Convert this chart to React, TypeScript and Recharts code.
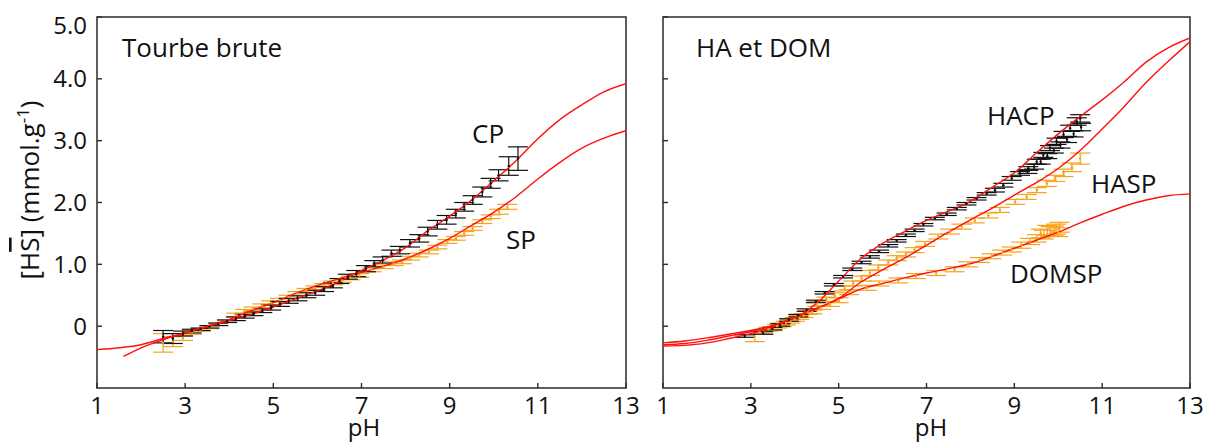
import React from "react";
import { ComposedChart, Line, Scatter, ErrorBar, XAxis, YAxis, ReferenceArea } from "recharts";

type Fit = [number, number];
type Pt = [number, number, number];

const pHTicks = [1, 3, 5, 7, 9, 11, 13];
const hsTicks = [0, 1, 2, 3, 4, 5];

// Tourbe brute: fitted curves (pH, [Hs])
const cpFit: Fit[] = [
  [1, -0.38], [1.5, -0.35], [2, -0.3], [2.5, -0.2], [3, -0.11], [3.5, -0.01], [4, 0.09], [4.5, 0.19],
  [5, 0.31], [5.5, 0.44], [6, 0.57], [6.5, 0.72], [7, 0.9], [7.5, 1.07], [8, 1.27], [8.5, 1.54],
  [9, 1.78], [9.5, 2.04], [10, 2.35], [10.5, 2.67], [11, 3.03], [11.5, 3.34], [12, 3.58], [12.5, 3.79], [13, 3.92],
];
const spFit: Fit[] = [
  [1.6, -0.49], [2, -0.35], [2.5, -0.22], [3, -0.11], [3.5, 0.0], [4, 0.11], [4.5, 0.25], [5, 0.38],
  [5.5, 0.53], [6, 0.66], [6.5, 0.77], [7, 0.87], [7.5, 0.97], [8, 1.09], [8.5, 1.24], [9, 1.42],
  [9.5, 1.63], [10, 1.84], [10.5, 2.09], [11, 2.38], [11.5, 2.65], [12, 2.88], [12.5, 3.04], [13, 3.16],
];

// Tourbe brute: measured points (pH, [Hs], error)
const cpPts: Pt[] = [
  [2.5, -0.17, 0.1], [2.72, -0.2, 0.08], [2.95, -0.12, 0.04], [3.15, -0.08, 0.03], [3.35, -0.05, 0.02],
  [3.55, -0.01, 0.02], [3.75, 0.03, 0.02], [3.95, 0.08, 0.02], [4.15, 0.12, 0.03], [4.35, 0.16, 0.03],
  [4.55, 0.2, 0.03], [4.75, 0.25, 0.03], [4.95, 0.3, 0.04], [5.15, 0.36, 0.04], [5.35, 0.41, 0.04],
  [5.55, 0.45, 0.04], [5.75, 0.5, 0.04], [5.95, 0.54, 0.04], [6.15, 0.6, 0.04], [6.35, 0.66, 0.04],
  [6.5, 0.73, 0.04], [6.69, 0.8, 0.04], [6.88, 0.85, 0.05], [7.1, 0.93, 0.05], [7.29, 1.01, 0.05],
  [7.48, 1.07, 0.05], [7.68, 1.18, 0.05], [7.87, 1.23, 0.06], [8.1, 1.34, 0.06], [8.31, 1.42, 0.06],
  [8.5, 1.53, 0.07], [8.72, 1.64, 0.07], [8.93, 1.72, 0.07], [9.14, 1.82, 0.07], [9.33, 1.93, 0.07],
  [9.52, 2.04, 0.07], [9.74, 2.17, 0.08], [9.93, 2.31, 0.08], [10.11, 2.44, 0.09], [10.34, 2.59, 0.15],
  [10.55, 2.71, 0.19],
];
const spPts: Pt[] = [
  [2.5, -0.27, 0.15], [2.72, -0.25, 0.08], [2.95, -0.19, 0.04], [3.15, -0.1, 0.03], [3.35, -0.06, 0.02],
  [3.55, -0.02, 0.02], [3.75, 0.03, 0.02], [3.95, 0.08, 0.02], [4.16, 0.18, 0.03], [4.36, 0.24, 0.03],
  [4.55, 0.28, 0.03], [4.75, 0.33, 0.03], [4.95, 0.38, 0.03], [5.15, 0.42, 0.03], [5.35, 0.47, 0.03],
  [5.55, 0.53, 0.03], [5.75, 0.58, 0.03], [5.95, 0.62, 0.03], [6.15, 0.66, 0.03], [6.35, 0.7, 0.03],
  [6.55, 0.74, 0.03], [6.75, 0.78, 0.03], [6.95, 0.82, 0.03], [7.23, 0.91, 0.03], [7.5, 0.96, 0.03],
  [7.73, 1.01, 0.03], [7.92, 1.04, 0.03], [8.1, 1.1, 0.03], [8.3, 1.15, 0.03], [8.53, 1.2, 0.03],
  [8.72, 1.28, 0.03], [8.95, 1.37, 0.03], [9.14, 1.42, 0.03], [9.33, 1.5, 0.03], [9.52, 1.58, 0.03],
  [9.74, 1.69, 0.03], [9.93, 1.77, 0.03], [10.12, 1.85, 0.04], [10.31, 1.93, 0.04],
];

// HA et DOM: fitted curves
const hacpFit: Fit[] = [
  [1, -0.27], [1.5, -0.24], [2, -0.19], [2.5, -0.13], [3, -0.07], [3.5, 0.01], [4, 0.13], [4.5, 0.37],
  [5, 0.73], [5.5, 1.09], [6, 1.34], [6.5, 1.53], [7, 1.71], [7.5, 1.86], [8, 2.02], [8.5, 2.25],
  [9, 2.48], [9.5, 2.8], [10, 3.11], [10.5, 3.39], [11, 3.66], [11.5, 3.95], [12, 4.27], [12.5, 4.5], [13, 4.66],
];
const haspFit: Fit[] = [
  [1, -0.3], [1.5, -0.28], [2, -0.23], [2.5, -0.16], [3, -0.09], [3.5, 0.01], [4, 0.14], [4.5, 0.29],
  [5, 0.45], [5.5, 0.71], [6, 0.91], [6.5, 1.1], [7, 1.31], [7.5, 1.52], [8, 1.72], [8.5, 1.91],
  [9, 2.12], [9.5, 2.32], [10, 2.55], [10.5, 2.84], [11, 3.19], [11.5, 3.55], [12, 3.94], [12.5, 4.28], [13, 4.6],
];
const domspFit: Fit[] = [
  [1, -0.32], [1.5, -0.31], [2, -0.27], [2.5, -0.2], [3, -0.12], [3.5, -0.01], [4, 0.13], [4.5, 0.28],
  [5, 0.44], [5.5, 0.6], [6, 0.69], [6.5, 0.78], [7, 0.86], [7.5, 0.93], [8, 1.01], [8.5, 1.13],
  [9, 1.26], [9.5, 1.39], [10, 1.52], [10.5, 1.67], [11, 1.81], [11.5, 1.94], [12, 2.04], [12.5, 2.11], [13, 2.14],
];

// HA et DOM: measured points
const hacpPts: Pt[] = [
  [2.86, -0.16, 0.02], [3.28, -0.11, 0.02], [3.49, -0.04, 0.02], [3.67, 0.02, 0.02], [3.87, 0.1, 0.02],
  [4.08, 0.17, 0.02], [4.27, 0.26, 0.02], [4.48, 0.4, 0.02], [4.68, 0.54, 0.02], [4.89, 0.67, 0.02],
  [5.1, 0.8, 0.02], [5.31, 0.92, 0.02], [5.52, 1.03, 0.02], [5.71, 1.12, 0.02], [5.92, 1.21, 0.02],
  [6.13, 1.3, 0.02], [6.32, 1.38, 0.02], [6.53, 1.47, 0.02], [6.73, 1.55, 0.02], [6.93, 1.64, 0.02],
  [7.19, 1.74, 0.02], [7.46, 1.81, 0.02], [7.69, 1.9, 0.02], [7.91, 1.98, 0.02], [8.14, 2.06, 0.02],
  [8.37, 2.14, 0.02], [8.56, 2.2, 0.03], [8.75, 2.28, 0.03], [8.94, 2.39, 0.03], [9.13, 2.47, 0.03],
  [9.32, 2.55, 0.03], [9.51, 2.66, 0.04], [9.66, 2.77, 0.04], [9.81, 2.88, 0.04], [9.96, 2.99, 0.05],
  [10.12, 3.1, 0.05], [10.27, 3.2, 0.05], [10.42, 3.31, 0.06], [10.5, 3.36, 0.06],
  [9.3, 2.5, 0.03], [9.45, 2.58, 0.04], [9.6, 2.66, 0.04], [9.75, 2.75, 0.04], [9.9, 2.84, 0.04],
  [10.05, 2.93, 0.05], [10.2, 3.02, 0.05], [10.35, 3.11, 0.05], [10.52, 3.22, 0.06],
];
const haspPts: Pt[] = [
  [3.09, -0.17, 0.08], [3.3, -0.1, 0.03], [3.5, -0.04, 0.03], [3.7, 0.02, 0.03], [3.9, 0.08, 0.03],
  [4.1, 0.14, 0.03], [4.3, 0.22, 0.03], [4.51, 0.36, 0.04], [4.72, 0.43, 0.04], [4.91, 0.5, 0.04],
  [5.14, 0.61, 0.04], [5.33, 0.69, 0.04], [5.52, 0.77, 0.04], [5.71, 0.86, 0.04], [5.9, 0.95, 0.04],
  [6.13, 1.03, 0.04], [6.32, 1.1, 0.04], [6.53, 1.16, 0.04], [6.73, 1.23, 0.04], [6.97, 1.33, 0.04],
  [7.27, 1.45, 0.04], [7.54, 1.53, 0.04], [7.8, 1.61, 0.04], [8.1, 1.71, 0.04], [8.41, 1.79, 0.04],
  [8.67, 1.88, 0.04], [9.02, 2.01, 0.04], [9.28, 2.09, 0.04], [9.51, 2.2, 0.04], [9.74, 2.31, 0.05],
  [9.93, 2.39, 0.05], [10.12, 2.48, 0.06], [10.31, 2.57, 0.07], [10.5, 2.71, 0.09],
];
const domspPts: Pt[] = [
  [3.2, -0.1, 0.03], [3.4, -0.05, 0.03], [3.6, 0.0, 0.03], [3.8, 0.05, 0.03], [4.0, 0.11, 0.03],
  [4.2, 0.17, 0.03], [4.4, 0.23, 0.03], [4.6, 0.3, 0.03], [4.8, 0.36, 0.04], [5.0, 0.42, 0.04],
  [5.24, 0.55, 0.04], [5.64, 0.62, 0.04], [5.93, 0.69, 0.04], [6.36, 0.74, 0.04], [6.76, 0.81, 0.04],
  [7.22, 0.86, 0.04], [7.64, 0.92, 0.04], [7.95, 1.0, 0.04], [8.21, 1.07, 0.04], [8.48, 1.13, 0.04],
  [8.72, 1.19, 0.04], [8.94, 1.24, 0.04], [9.16, 1.31, 0.05], [9.36, 1.37, 0.05], [9.51, 1.42, 0.06],
  [9.67, 1.48, 0.07], [9.83, 1.53, 0.08], [9.95, 1.57, 0.08], [10.03, 1.6, 0.08],
  [9.6, 1.5, 0.07], [9.75, 1.55, 0.08], [9.9, 1.54, 0.08], [10.0, 1.52, 0.07],
];

const FONT = "'Open Sans', sans-serif";
const FRAME = "#2a2a2a";
const RED = "#ff1010";
const ORANGE = "#f7a31c";
const BLACK = "#111";

const toLine = (f: Fit[]) => f.map(([x, y]) => ({ x, y }));
const toPts = (p: Pt[]) => p.map(([x, y, e]) => ({ x, y, e }));

const YTick = (props: any) => {
  const { x, y, payload, showLabel } = props;
  const v = payload.value as number;
  return (
    <g>
      <line x1={x} x2={x + 5} y1={y} y2={y} stroke={FRAME} strokeWidth={1.4} />
      {showLabel && (
        <text
          x={x - 10}
          y={v === 5 ? y + 8 : y}
          dy="0.355em"
          textAnchor="end"
          fontFamily={FONT}
          fontSize={24}
          fill={BLACK}
        >
          {v === 0 ? "0" : v.toFixed(1)}
        </text>
      )}
    </g>
  );
};

const XTick = (props: any) => {
  const { x, y, payload } = props;
  return (
    <g>
      <line x1={x} x2={x} y1={y} y2={y - 5} stroke={FRAME} strokeWidth={1.4} />
      <text x={x} y={y + 26} textAnchor="middle" fontFamily={FONT} fontSize={24} fill={BLACK}>
        {payload.value}
      </text>
    </g>
  );
};

const Dot = (color: string) => (p: any) => <circle cx={p.cx} cy={p.cy} r={1.2} fill={color} />;

type PanelProps = {
  left: number;
  width: number;
  marginLeft: number;
  marginRight: number;
  showLabels: boolean;
  fits: Fit[][];
  sets: { pts: Pt[]; color: string }[];
};

const Panel = ({ left, width, marginLeft, marginRight, showLabels, fits, sets }: PanelProps) => (
  <div style={{ position: "absolute", left, top: 0 }}>
    <ComposedChart
      width={width}
      height={443}
      margin={{ top: 17, right: marginRight, bottom: 25, left: marginLeft }}
    >
      <XAxis
        type="number"
        dataKey="x"
        domain={[1, 13]}
        ticks={pHTicks}
        interval={0}
        allowDataOverflow
        axisLine={false}
        tickLine={false}
        tickSize={0}
        tickMargin={0}
        height={30}
        tick={(p: any) => <XTick {...p} />}
      />
      <YAxis
        type="number"
        domain={[-1, 5]}
        ticks={hsTicks}
        interval={0}
        allowDataOverflow
        axisLine={false}
        tickLine={false}
        tickSize={0}
        tickMargin={0}
        width={60}
        tick={(p: any) => <YTick {...p} showLabel={showLabels} />}
      />
      {sets.map((s, i) => (
        <Scatter
          key={"s" + i}
          data={toPts(s.pts)}
          dataKey="y"
          fill={s.color}
          shape={Dot(s.color)}
          isAnimationActive={false}
        >
          <ErrorBar
            dataKey="e"
            direction="y"
            width={10}
            stroke={s.color}
            strokeWidth={1.2}
            isAnimationActive={false}
          />
        </Scatter>
      ))}
      {fits.map((f, i) => (
        <Line
          key={"f" + i}
          data={toLine(f)}
          dataKey="y"
          type="monotone"
          stroke={RED}
          strokeWidth={1.4}
          dot={false}
          activeDot={false}
          isAnimationActive={false}
        />
      ))}
      <ReferenceArea
        x1={1}
        x2={13}
        y1={-1}
        y2={5}
        fill="none"
        stroke={FRAME}
        strokeWidth={1.5}
        ifOverflow="visible"
      />
    </ComposedChart>
  </div>
);

const txt = { fontFamily: FONT, fontSize: 26, fill: BLACK } as const;

export default function App() {
  return (
    <div
      style={{
        position: "fixed",
        left: 0,
        top: 0,
        width: 1205,
        height: 443,
        background: "#fff",
        overflow: "hidden",
      }}
    >
      <Panel
        left={0}
        width={640}
        marginLeft={37}
        marginRight={14}
        showLabels
        fits={[cpFit, spFit]}
        sets={[
          { pts: spPts, color: ORANGE },
          { pts: cpPts, color: BLACK },
        ]}
      />
      <Panel
        left={600}
        width={605}
        marginLeft={3}
        marginRight={15}
        showLabels={false}
        fits={[hacpFit, haspFit, domspFit]}
        sets={[
          { pts: haspPts, color: ORANGE },
          { pts: domspPts, color: ORANGE },
          { pts: hacpPts, color: BLACK },
        ]}
      />
      <svg
        width={1205}
        height={443}
        style={{ position: "absolute", left: 0, top: 0, pointerEvents: "none" }}
      >
        <text x={122} y={57} {...txt}>Tourbe brute</text>
        <text x={696} y={57} {...txt}>HA et DOM</text>
        <text x={472} y={143} {...txt}>CP</text>
        <text x={506} y={249} {...txt}>SP</text>
        <text x={987} y={125} {...txt}>HACP</text>
        <text x={1091} y={193} {...txt}>HASP</text>
        <text x={1010} y={283} {...txt}>DOMSP</text>
        <text x={364} y={436} textAnchor="middle" {...txt} fontSize={24}>pH</text>
        <text x={931} y={436} textAnchor="middle" {...txt} fontSize={24}>pH</text>
        <text
          x={39}
          y={190}
          textAnchor="middle"
          transform="rotate(-90 39 190)"
          fontFamily={FONT}
          fontSize={26}
          fill={BLACK}
        >
          [H<tspan textDecoration="overline">S</tspan>] (mmol.g
          <tspan fontSize={17} dy={-10}>-1</tspan>
          <tspan dy={10}>)</tspan>
        </text>
      </svg>
    </div>
  );
}
